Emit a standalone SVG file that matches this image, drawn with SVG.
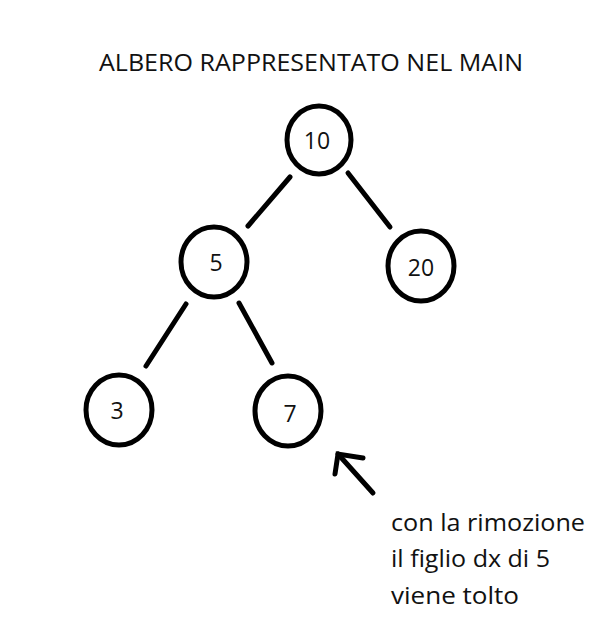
<svg xmlns="http://www.w3.org/2000/svg" width="607" height="622" viewBox="0 0 607 622">
<style>
.n{fill:#fff;stroke:#000;stroke-width:5}
.e{stroke:#000;stroke-width:5;stroke-linecap:round;fill:none}
.t{font-family:"Open Sans","Noto Sans",sans-serif;fill:#111}
.d{font-size:23px;text-anchor:middle}
</style>
<rect width="607" height="622" fill="#fff"/>
<text class="t" x="99" y="71" font-size="24.5" textLength="424" lengthAdjust="spacingAndGlyphs">ALBERO RAPPRESENTATO NEL MAIN</text>
<g id="connectors">
<line class="e" x1="290" y1="177" x2="248" y2="226"/>
<line class="e" x1="348" y1="173" x2="390" y2="227"/>
<line class="e" x1="186" y1="304" x2="146" y2="366"/>
<line class="e" x1="239" y1="303" x2="272" y2="363"/>
<g id="arrow">
<line class="e" x1="373" y1="493" x2="338" y2="454"/>
<polyline class="e" points="363,458 338,454 335,474"/>
</g>
</g>
<g id="n10"><ellipse class="n" cx="319" cy="140" rx="32" ry="34"/><text class="t d" x="317" y="149">10</text></g>
<g id="n5"><ellipse class="n" cx="214" cy="262" rx="33" ry="35"/><text class="t d" x="216" y="271">5</text></g>
<g id="n20"><ellipse class="n" cx="421" cy="266" rx="33" ry="35"/><text class="t d" x="421" y="276">20</text></g>
<g id="n3"><ellipse class="n" cx="119" cy="410" rx="33" ry="35"/><text class="t d" x="117" y="419">3</text></g>
<g id="n7"><ellipse class="n" cx="288" cy="411" rx="33" ry="35"/><text class="t d" x="290" y="422">7</text></g>
<g id="note">
<text class="t" x="391" y="531" font-size="24" textLength="194" lengthAdjust="spacingAndGlyphs">con la rimozione</text>
<text class="t" x="391" y="567" font-size="24" textLength="159" lengthAdjust="spacingAndGlyphs">il figlio dx di 5</text>
<text class="t" x="391" y="604" font-size="24" textLength="128" lengthAdjust="spacingAndGlyphs">viene tolto</text>
</g>
</svg>
